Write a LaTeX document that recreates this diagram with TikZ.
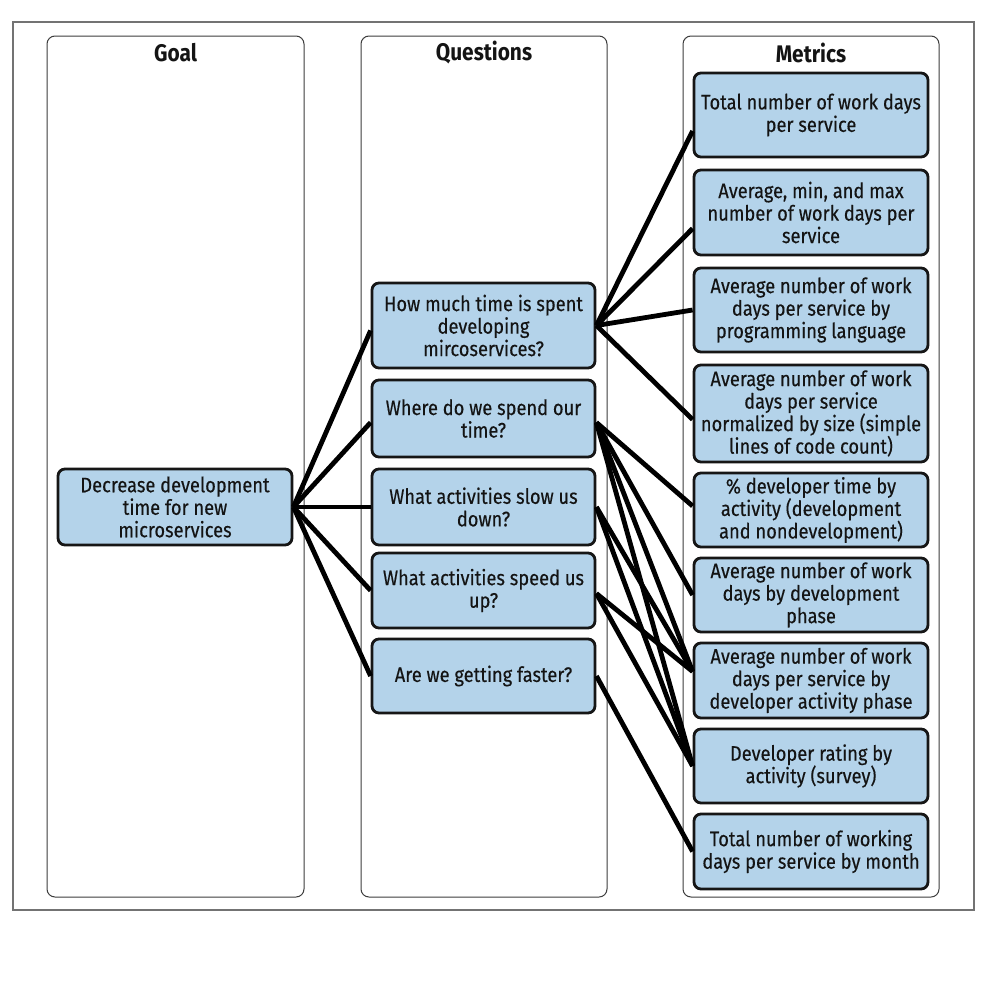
\documentclass[tikz,border=0pt]{standalone}
\usepackage{fontspec}
\setmainfont{Fira Sans}[FakeStretch=0.87]
\newfontfamily\boxfont{Fira Sans}[FakeStretch=0.87, FakeBold=0.3]
\definecolor{boxblue}{RGB}{180,211,234}
\definecolor{boxedge}{RGB}{22,22,22}
\definecolor{coledge}{RGB}{60,60,60}
\definecolor{frameedge}{RGB}{115,115,115}
\definecolor{textc}{RGB}{20,20,20}
\tikzset{
  qbox/.style={draw=boxedge, fill=boxblue, line width=2.8pt, rounded corners=7pt,
    align=center, font=\boxfont\fontsize{21}{22.5}\selectfont, inner sep=0pt, text=textc},
  colbox/.style={draw=coledge, line width=1pt, rounded corners=8pt, inner sep=0pt},
  framebox/.style={draw=frameedge, line width=1.3pt, inner sep=0pt},
  coltitle/.style={font=\bfseries\fontsize{24}{26}\selectfont, text=textc, inner sep=0pt},
  link/.style={line width=4.8pt, draw=black},
}
\begin{document}
\begin{tikzpicture}[x=1pt,y=-1pt]
\useasboundingbox (0,0) rectangle (986,996);
\fill[white] (0,0) rectangle (986,996);
% outer frame and columns
\node[framebox, minimum width=961pt, minimum height=888pt] (frame) at (493.5,466) {};
\node[colbox, minimum width=257pt, minimum height=861pt] (cg) at (175.5,466.5) {};
\node[colbox, minimum width=246pt, minimum height=861pt] (cq) at (484,466.5) {};
\node[colbox, minimum width=256pt, minimum height=861pt] (cm) at (811,466.5) {};
\node[coltitle] (tg) at (175.5,53) {Goal};
\node[coltitle] (tq) at (484,53) {Questions};
\node[coltitle] (tm) at (811,53) {Metrics};
% goal
\node[qbox, minimum width=234pt, minimum height=76pt] (g) at (175,507)
  {Decrease development\\time for new\\microservices};
% questions
\node[qbox, minimum width=223pt, minimum height=85pt] (q1) at (483.5,325.5)
  {How much time is spent\\developing\\mircoservices?};
\node[qbox, minimum width=223pt, minimum height=77pt] (q2) at (483.5,418.5)
  {Where do we spend our\\time?};
\node[qbox, minimum width=223pt, minimum height=76pt] (q3) at (483.5,507)
  {What activities slow us\\down?};
\node[qbox, minimum width=223pt, minimum height=75pt] (q4) at (483.5,590.5)
  {What activities speed us\\up?};
\node[qbox, minimum width=223pt, minimum height=74pt] (q5) at (483.5,676)
  {Are we getting faster?};
% metrics
\node[qbox, minimum width=234pt, minimum height=84pt] (m1) at (811,115)
  {Total number of work days\\per service};
\node[qbox, minimum width=234pt, minimum height=85pt] (m2) at (811,212.5)
  {Average, min, and max\\number of work days per\\service};
\node[qbox, minimum width=234pt, minimum height=84pt] (m3) at (811,310)
  {Average number of work\\days per service by\\programming language};
\node[qbox, minimum width=234pt, minimum height=97pt] (m4) at (811,413.5)
  {Average number of work\\days per service\\normalized by size (simple\\lines of code count)};
\node[qbox, minimum width=234pt, minimum height=74pt] (m5) at (811,510)
  {\% developer time by\\activity (development\\and nondevelopment)};
\node[qbox, minimum width=234pt, minimum height=74pt] (m6) at (811,595)
  {Average number of work\\days by development\\phase};
\node[qbox, minimum width=234pt, minimum height=75pt] (m7) at (811,680.5)
  {Average number of work\\days per service by\\developer activity phase};
\node[qbox, minimum width=234pt, minimum height=74pt] (m8) at (811,766)
  {Developer rating by\\activity (survey)};
\node[qbox, minimum width=234pt, minimum height=75pt] (m9) at (811,851.5)
  {Total number of working\\days per service by month};
% goal -> questions
\draw[link] (g.east) -- ([yshift=-5pt]q1.west);
\draw[link] (g.east) -- ([yshift=-4pt]q2.west);
\draw[link] (g.east) -- (q3.west);
\draw[link] (g.east) -- (q4.west);
\draw[link] (g.east) -- (q5.west);
% q1
\draw[link] (q1.east) -- ([yshift=-16pt]m1.west);
\draw[link] (q1.east) -- ([yshift=-16pt]m2.west);
\draw[link] (q1.east) -- (m3.west);
\draw[link] (q1.east) -- ([yshift=-6pt]m4.west);
% q2
\draw[link] ([yshift=-4pt]q2.east) -- ([yshift=4pt]m5.west);
\draw[link] ([yshift=-4pt]q2.east) -- (m6.west);
\draw[link] ([yshift=-4pt]q2.east) -- ([yshift=9pt]m7.west);
\draw[link] ([yshift=-4pt]q2.east) -- (m8.west);
% q3
\draw[link] (q3.east) -- ([yshift=9pt]m7.west);
\draw[link] (q3.east) -- (m8.west);
% q4
\draw[link] ([yshift=-3pt]q4.east) -- ([yshift=9pt]m7.west);
\draw[link] ([yshift=-3pt]q4.east) -- (m8.west);
% q5
\draw[link] (q5.east) -- (m9.west);
\end{tikzpicture}
\end{document}
